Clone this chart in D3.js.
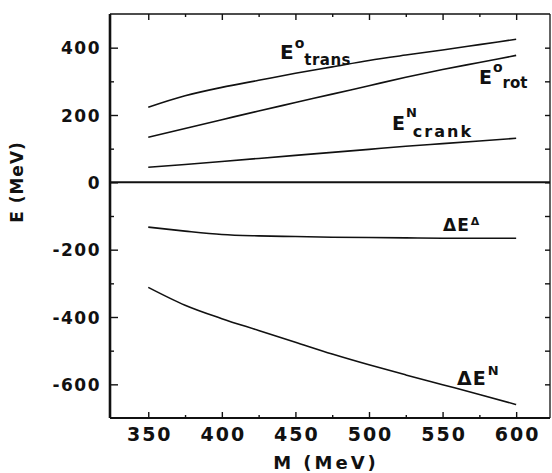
<!DOCTYPE html>
<html lang="en">
<head>
<meta charset="UTF-8">
<title>E vs M</title>
<script src="https://cdn.jsdelivr.net/npm/d3@7/dist/d3.min.js"></script>
<style>
  body { margin: 0; background: #fff; }
  svg { display: block; }
  .tick text { font-family: "DejaVu Sans", sans-serif; font-weight: bold; fill: #111; }
  .lbl { font-family: "DejaVu Sans", sans-serif; font-weight: bold; fill: #111; }
</style>
</head>
<body>
<svg id="chart" width="552" height="473"></svg>
<script>

// data
var mass = [350, 375, 400, 425, 450, 475, 500, 525, 550, 575, 600];
var eTrans  = [223, 257, 282, 303, 324, 343, 362, 378, 393, 409, 425];
var eRot    = [134, 160, 186, 212, 237, 262, 287, 312, 335, 356, 377];
var eCrank  = [45, 53, 62, 71, 80, 89, 98, 107, 115, 123, 131];
var dEDelta = [-133, -145, -155, -159, -161, -163, -164, -165, -166, -166, -166];
var dEN     = [-312, -365, -405, -440, -475, -510, -542, -572, -601, -630, -660];

var xTicks = [350, 400, 450, 500, 550, 600];
var xMinor = [375, 425, 475, 525, 575];
var yTicks = [-600, -400, -200, 0, 200, 400];
var yMinor = [-500, -300, -100, 100, 300];

// plot box (window.top is reserved, so use other names)
var pLeft = 110, pRight = 550, pTop = 14, pBottom = 418;

var x = d3.scaleLinear().domain([324, 623]).range([pLeft, pRight]);
var y = d3.scaleLinear().domain([-700, 500]).range([pBottom, pTop]);

var svg = d3.select("#chart");

// frame
svg.append("line").attr("x1", pLeft).attr("x2", pRight).attr("y1", pTop).attr("y2", pTop)
  .attr("stroke", "#111").attr("stroke-width", 1.6);
svg.append("line").attr("x1", pRight).attr("x2", pRight).attr("y1", pTop).attr("y2", pBottom)
  .attr("stroke", "#111").attr("stroke-width", 1.3);
svg.append("line").attr("x1", pLeft).attr("x2", pRight).attr("y1", pBottom).attr("y2", pBottom)
  .attr("stroke", "#111").attr("stroke-width", 2);
svg.append("line").attr("x1", pLeft).attr("x2", pLeft).attr("y1", pTop).attr("y2", pBottom)
  .attr("stroke", "#111").attr("stroke-width", 2.6);

// zero line
svg.append("line").attr("x1", pLeft).attr("x2", pRight).attr("y1", y(0)).attr("y2", y(0))
  .attr("stroke", "#111").attr("stroke-width", 2);

function tidy(g) {
  g.select(".domain").remove();
  g.selectAll(".tick line").attr("stroke", "#111").attr("stroke-width", 1.4);
}

// plain hyphen for negatives, like the original
var plain = function(d) { return String(d); };

// left axis
svg.append("g").attr("transform", "translate(" + pLeft + ",0)")
  .call(d3.axisLeft(y).tickValues(yTicks).tickFormat(plain).tickSize(-8).tickSizeOuter(0).tickPadding(9))
  .call(tidy)
  .selectAll("text").style("font-size", "17px").style("letter-spacing", "1.5px")
  .attr("dy", "0.36em");
svg.append("g").attr("transform", "translate(" + pLeft + ",0)")
  .call(d3.axisLeft(y).tickValues(yMinor).tickSize(-4).tickFormat(""))
  .call(tidy);

// right axis
svg.append("g").attr("transform", "translate(" + pRight + ",0)")
  .call(d3.axisRight(y).tickValues(yTicks.concat(yMinor)).tickSize(-5).tickFormat(""))
  .call(tidy);

// bottom axis
svg.append("g").attr("transform", "translate(0," + pBottom + ")")
  .call(d3.axisBottom(x).tickValues(xTicks).tickFormat(plain).tickSize(-6).tickSizeOuter(0).tickPadding(9.5))
  .call(tidy)
  .selectAll("text").style("font-size", "19px").style("letter-spacing", "2px")
  .attr("dx", "1px");
svg.append("g").attr("transform", "translate(0," + pBottom + ")")
  .call(d3.axisBottom(x).tickValues(xMinor).tickSize(-3).tickFormat(""))
  .call(tidy);

// top axis
svg.append("g").attr("transform", "translate(0," + pTop + ")")
  .call(d3.axisTop(x).tickValues(xTicks).tickSize(-6).tickFormat(""))
  .call(tidy);
svg.append("g").attr("transform", "translate(0," + pTop + ")")
  .call(d3.axisTop(x).tickValues(xMinor).tickSize(-3).tickFormat(""))
  .call(tidy);

// axis titles
svg.append("text").attr("class", "lbl")
  .attr("x", 326).attr("y", 469).attr("text-anchor", "middle")
  .style("font-size", "18px").style("letter-spacing", "3px")
  .text("M (MeV)");

svg.append("text").attr("class", "lbl")
  .attr("transform", "translate(23,182) rotate(-90)").attr("text-anchor", "middle")
  .style("font-size", "17px").style("letter-spacing", "1px")
  .text("E (MeV)");

// curves
var line = d3.line()
  .x(function(d) { return x(d[0]); })
  .y(function(d) { return y(d[1]); })
  .curve(d3.curveMonotoneX);

[eTrans, eRot, eCrank, dEDelta, dEN].forEach(function(vals) {
  svg.append("path")
    .datum(mass.map(function(m, i) { return [m, vals[i]]; }))
    .attr("d", line)
    .attr("fill", "none")
    .attr("stroke", "#111")
    .attr("stroke-width", 1.6);
});

// curve labels: main letter, superscript, subscript
function label(m, e, main, mainSize, mainLs, sup, supSize, supDy, sub, subSize, subDy, subLs, subDx) {
  var t = svg.append("text").attr("class", "lbl")
    .attr("x", x(m)).attr("y", y(e));
  t.append("tspan").style("font-size", mainSize + "px").style("letter-spacing", mainLs + "px").text(main);
  t.append("tspan").style("font-size", supSize + "px").attr("dx", 1).attr("dy", supDy).text(sup);
  if (sub) {
    t.append("tspan").style("font-size", subSize + "px").style("letter-spacing", subLs + "px")
      .attr("dx", subDx).attr("dy", subDy).text(sub);
  }
}

label(439.5, 366, "E", 20, 0, "o", 14, -11, "trans", 15, 17, 0.5, 0);
label(574.7, 292, "E", 19, 0, "o", 14, -12, "rot", 15, 16, 0, 0);
label(515.6, 155, "E", 19, 0, "N", 13, -13, "crank", 16, 20, 2, -4);
label(550.3, -146, "\u0394E", 17, 1, "\u0394", 11, -6, null);
label(559.8, -602, "\u0394E", 19, 1, "N", 13, -10, null);

</script>
</body>
</html>
